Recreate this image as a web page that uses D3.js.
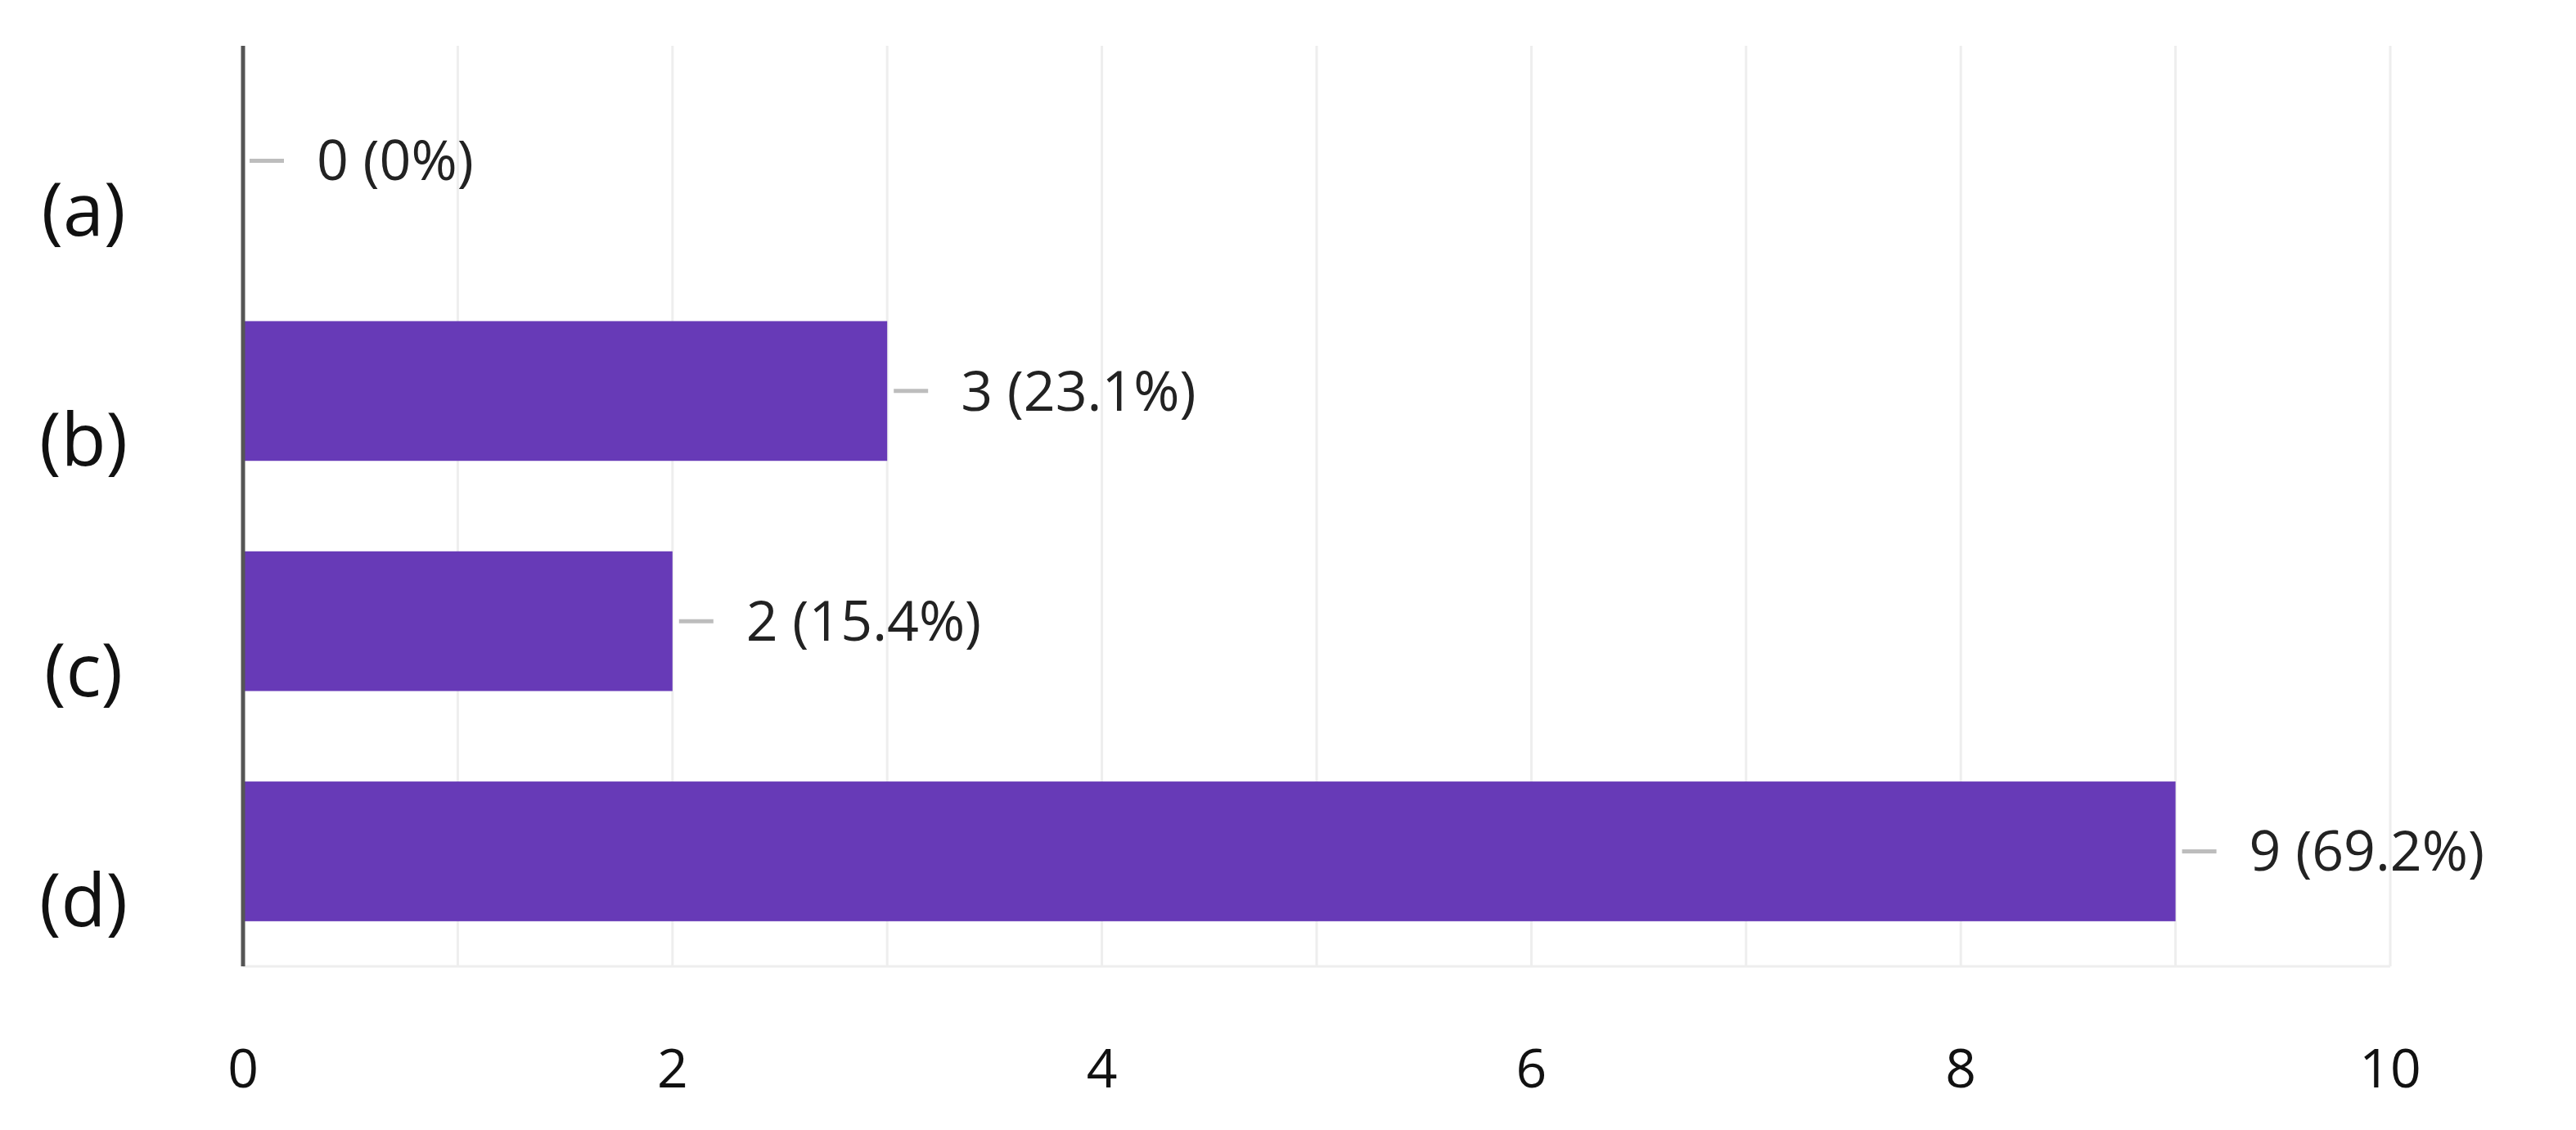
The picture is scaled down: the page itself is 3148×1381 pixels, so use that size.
<!DOCTYPE html>
<html><head><meta charset="utf-8">
<script src="https://cdn.jsdelivr.net/npm/d3@7"></script>
<style>body{margin:0;background:#fff}</style>
</head><body>
<svg id="chart" width="3148" height="1381"></svg>
<script>
const categories = ["(a)", "(b)", "(c)", "(d)"];
const counts = [0, 3, 2, 9];
const percents = ["0%", "23.1%", "15.4%", "69.2%"];
const xTicks = [0, 2, 4, 6, 8, 10];

let svg = d3.select("#chart"),
    margin = { top: 56, left: 297, right: 227, bottom: 200 };
let width = 3148 - margin.left - margin.right;
let height = 1181 - margin.top;

let g = svg.append("g").attr("transform", `translate(${margin.left},${margin.top})`);

let x = d3.scaleLinear().domain([0, 10]).range([0, width]);
let y = d3.scaleBand().domain(categories).range([0, height]).paddingInner(0.393).paddingOuter(0.196);

// grid
g.selectAll(".grid").data(d3.range(1, 11)).enter().append("line")
  .attr("x1", d => x(d)).attr("x2", d => x(d))
  .attr("y1", 0).attr("y2", height)
  .attr("stroke", "#eeeeee").attr("stroke-width", 3);
g.append("line").attr("x1", 0).attr("x2", width).attr("y1", height).attr("y2", height)
  .attr("stroke", "#eeeeee").attr("stroke-width", 3);

// bars
g.selectAll("rect").data(categories).enter().append("rect")
  .attr("x", 0).attr("y", d => y(d))
  .attr("width", (d, i) => x(counts[i]))
  .attr("height", y.bandwidth())
  .attr("fill", "#673ab7");

// leader lines and value labels
g.selectAll(".lead").data(categories).enter().append("line")
  .attr("x1", (d, i) => x(counts[i]) + 8).attr("x2", (d, i) => x(counts[i]) + 50)
  .attr("y1", d => y(d) + y.bandwidth() / 2).attr("y2", d => y(d) + y.bandwidth() / 2)
  .attr("stroke", "#bdbdbd").attr("stroke-width", 5);
g.selectAll(".val").data(categories).enter().append("text")
  .attr("x", (d, i) => x(counts[i]) + 90)
  .attr("y", d => y(d) + y.bandwidth() / 2)
  .attr("dy", "0.35em")
  .attr("font-family", "Open Sans, sans-serif").attr("font-size", 68).attr("fill", "#222")
  .text((d, i) => `${counts[i]} (${percents[i]})`);

// axis line
g.append("line").attr("x1", 0).attr("x2", 0).attr("y1", 0).attr("y2", height)
  .attr("stroke", "#555").attr("stroke-width", 5);

// category labels
g.selectAll(".cat").data(categories).enter().append("text")
  .attr("x", -195).attr("y", d => y(d) + y.bandwidth() / 2 + 60)
  .attr("text-anchor", "middle").attr("dy", "0.35em")
  .attr("font-family", "Open Sans, sans-serif").attr("font-size", 90).attr("fill", "#111")
  .text(d => d);

// x tick labels
g.selectAll(".tick").data(xTicks).enter().append("text")
  .attr("x", d => x(d)).attr("y", height + 125)
  .attr("text-anchor", "middle").attr("dy", "0.35em")
  .attr("font-family", "Open Sans, sans-serif").attr("font-size", 66).attr("fill", "#111")
  .text(d => d);
</script>
</body></html>
